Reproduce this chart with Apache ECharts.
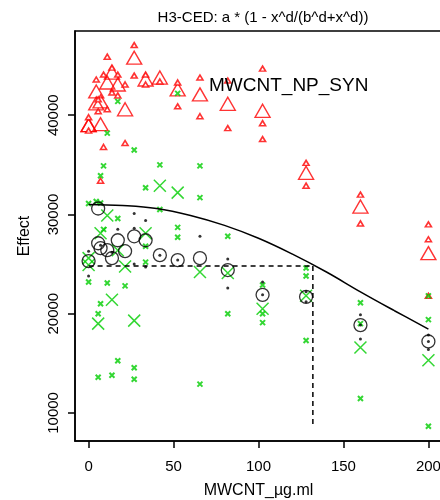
<!DOCTYPE html>
<html><head><meta charset="utf-8">
<script src="https://cdn.jsdelivr.net/npm/echarts@6/dist/echarts.min.js"></script>
<style>html,body{margin:0;padding:0;background:#fff}#c{width:440px;height:500px}</style>
</head><body><div id="c"></div>
<script>
const titleText = "H3-CED: a * (1 - x^d/(b^d+x^d))";
const xName = "MWCNT_µg.ml";
const yName = "Effect";
const label = "MWCNT_NP_SYN";
const xTicks = [0, 50, 100, 150, 200];
const yTicks = [10000, 20000, 30000, 40000];

const redLarge = [[0,39000],[4.5,42400],[10.99,43300],[17.18,43100],[7.04,41400],[4.5,41200],[21.47,40600],[0,39000],[7.04,39100],[13.74,44300],[26.84,45800],[33.55,43600],[41.94,43800],[52.43,42600],[65.54,42100],[81.92,41150],[102.4,40450],[128,34200],[160,30800],[200,26100]];
const redSmall = [[10.99,45900],[26.84,47070],[13.74,44800],[8.8,44100],[4.5,43600],[17.18,44100],[21.47,43100],[26.84,44000],[33.55,44100],[33.55,43100],[41.94,43400],[52.43,43300],[52.43,40900],[65.54,43800],[65.54,39900],[81.92,43500],[81.92,38700],[8.8,36800],[21.47,37200],[0,38450],[0,39800],[17.18,42000],[5.63,40400],[10.99,40600],[13.74,42300],[5.63,41600],[7.04,33400],[102.4,44700],[102.4,39200],[102.4,37600],[128,35200],[128,32900],[160,32000],[160,29100],[200,29000],[200,27500],[200,21800]];

const greenLarge = [[0,25600],[7.04,28100],[10.99,29900],[17.18,26400],[21.47,24750],[33.55,28100],[41.94,32900],[52.43,32200],[65.54,24200],[81.92,24100],[13.74,21400],[26.84,19300],[5.63,19000],[102.4,20500],[128,21800],[160,16600],[200,15300],[0,24900]];
const greenSmall = [[52.43,42200],[17.18,41400],[10.99,38200],[26.84,36500],[8.8,34900],[41.94,35000],[65.54,34900],[7.04,33900],[33.55,32700],[65.54,31700],[0,31100],[4.5,31300],[7.04,31150],[17.18,29600],[41.94,30500],[52.43,28700],[52.43,27700],[81.92,27800],[33.55,26800],[33.55,25200],[0,23200],[10.99,23100],[21.47,22800],[7.04,21000],[5.63,20000],[81.92,20000],[17.18,15250],[26.84,14550],[5.63,13600],[13.74,13800],[26.84,13400],[65.54,12900],[128,24600],[128,23800],[102.4,22900],[102.4,20000],[160,21100],[200,21800],[102.4,19100],[128,17300],[160,19000],[160,11450],[200,19400],[200,8650],[8.8,28500]];

const blackLarge = [[5.63,30600],[26.84,27800],[33.55,27400],[17.18,27400],[21.47,26300],[5.63,27100],[7.04,26600],[10.99,26400],[13.74,25600],[0,25300],[41.94,25900],[52.43,25400],[65.54,25600],[81.92,24400],[102.4,21900],[128,21700],[160,18850],[200,17200]];
const blackSmall = [[26.84,30100],[33.55,29400],[17.18,28500],[26.84,28600],[65.54,27800],[81.92,25500],[81.92,22600],[0,23800],[0,26300],[33.55,24700],[26.84,25000],[41.94,25900],[52.43,25400],[102.4,21900],[102.4,23200],[128,22200],[128,21200],[160,19900],[160,18850],[160,17450],[200,17850],[200,17200],[200,16400],[13.74,26200],[7.04,26900]];

const curve = [[0,31000],[20,30900],[40,30600],[60,29900],[80,28900],[100,27600],[120,26000],[140,24200],[160,22200],[180,20300],[200,18450]];
const edH = [[0,24800],[132,24800]];
const edV = [[132,24800],[132,8700]];

const FONT = "Liberation Sans, Arial, sans-serif";
const XPATH = 'path://M0,0L10,10M10,0L0,10';
const RED = '#ff0000', GREEN = '#00cd00';

function sc(data, symbol, size, fill, border, bw) {
  return { type: 'scatter', data, symbol, symbolSize: size, silent: true,
    itemStyle: { color: fill, borderColor: border, borderWidth: bw } };
}

const chart = echarts.init(document.getElementById('c'), null, { renderer: 'canvas' });
chart.setOption({
  animation: false,
  backgroundColor: '#fff',
  grid: { left: 75, top: 31, width: 367, height: 410, show: true, borderColor: '#000', borderWidth: 1.5, containLabel: false, outerBoundsMode: 'none' },
  xAxis: {
    type: 'value', min: -8, max: 208,
    name: xName, nameLocation: 'middle', nameGap: 42,
    nameTextStyle: { fontSize: 16, color: '#000', fontFamily: FONT },
    axisLine: { show: true, onZero: false, lineStyle: { color: '#000', width: 1.5 } },
    axisTick: { show: true, customValues: xTicks, length: 7, lineStyle: { color: '#000', width: 1.5 } },
    axisLabel: { customValues: xTicks, fontSize: 15, color: '#000', margin: 18, fontFamily: FONT, formatter: v => String(v) },
    splitLine: { show: false }
  },
  yAxis: {
    type: 'value', min: 7170, max: 48490,
    name: yName, nameLocation: 'middle', nameGap: 42, nameRotate: 90,
    nameTextStyle: { fontSize: 16, color: '#000', fontFamily: FONT },
    axisLine: { show: true, onZero: false, lineStyle: { color: '#000', width: 1.5 } },
    axisTick: { show: true, customValues: yTicks, length: 7, lineStyle: { color: '#000', width: 1.5 } },
    axisLabel: { customValues: yTicks, fontSize: 15, color: '#000', margin: 14, rotate: 90, fontFamily: FONT, formatter: v => String(v) },
    splitLine: { show: false }
  },
  graphic: [
    { type: 'text', x: 263, y: 18, style: { text: titleText, textAlign: 'center', textVerticalAlign: 'middle', fontSize: 15, fontFamily: FONT, fill: '#000' } },
    { type: 'text', x: 209, y: 86, z: 100, style: { text: label, textAlign: 'left', textVerticalAlign: 'middle', fontSize: 19, fontFamily: FONT, fill: '#000' } }
  ],
  series: [
    sc(redLarge, 'triangle', [15, 13], 'rgba(0,0,0,0)', RED, 1.4),
    sc(redSmall, 'triangle', [6, 5], 'rgba(255,255,255,1)', RED, 1.6),
    sc(greenLarge, XPATH, 12, 'rgba(0,0,0,0)', GREEN, 1.5),
    sc(greenSmall, XPATH, 5, 'rgba(0,0,0,0)', GREEN, 2),
    sc(blackLarge, 'circle', 13, 'rgba(0,0,0,0)', '#000', 1.3),
    sc(blackSmall, 'circle', 3, '#000', '#000', 0),
    { type: 'line', data: curve, smooth: 0.4, symbol: 'none', silent: true, lineStyle: { color: '#000', width: 1.5 } },
    { type: 'line', data: edH, symbol: 'none', silent: true, lineStyle: { color: '#000', width: 1.5, type: [5, 4] } },
    { type: 'line', data: edV, symbol: 'none', silent: true, lineStyle: { color: '#000', width: 1.5, type: [5, 4] } }
  ]
});
</script>
</body></html>
